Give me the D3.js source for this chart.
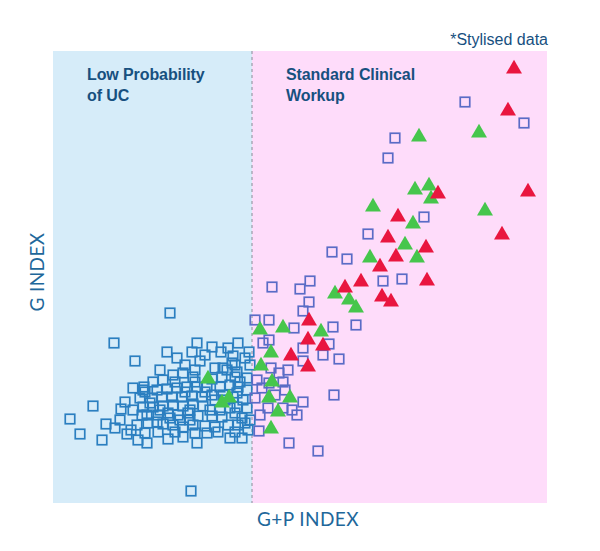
<!DOCTYPE html>
<html>
<head>
<meta charset="utf-8">
<script src="https://cdn.jsdelivr.net/npm/d3@7"></script>
<style>
  html, body { margin: 0; padding: 0; background: #ffffff; }
  svg { display: block; }
</style>
</head>
<body>
<svg id="chart" width="600" height="551"></svg>
<script>
// ---- Data (stylised, arbitrary index units) ----
const xDomain = [0, 98.8];
const yDomain = [0, 90.4];
const threshold = 39.8;

const regionLabels = [
  ["Low Probability", "of UC"],
  ["Standard Clinical", "Workup"]
];
const xAxisTitle = "G+P INDEX";
const yAxisTitle = "G INDEX";
const noteText = "*Stylised data";

// squares (hollow)
const squareX = [
  23.4,12.2,16.4,8.0,3.4,5.4,9.8,14.8,15.6,10.6,12.4,13.6,14.4,16.0,18.0,18.8,23.0,28.8,37.8,27.6,
  28.8,31.8,33.6,27.8,22.8,24.8,36.0,37.0,29.4,32.4,34.0,35.8,39.2,
  26.0,28.0,24.0,22.0,20.0,18.2,31.8,33.8,36.4,33.4,35.4,36.4,34.8,36.8,38.8,37.0,38.8,
  18.4,20.8,22.8,24.8,26.8,28.8,30.8,19.8,21.8,23.8,25.8,27.8,29.8,31.8,36.8,34.0,36.0,38.0,17.4,
  18.0,20.0,22.0,24.0,26.0,28.0,30.0,31.4,35.4,36.8,38.8,19.4,16.0,
  18.8,21.0,23.0,25.0,27.0,29.0,31.8,33.8,36.4,37.8,17.8,
  19.0,20.8,22.0,24.0,26.0,28.0,30.4,32.4,35.0,37.0,38.4,
  18.4,21.0,26.0,30.8,33.0,35.4,36.4,
  24.4,26.4,28.4,30.4,32.4,34.4,21.4,23.4,25.4,27.4,33.4,27.4,37.4,39.4,39.0,13.4,16.8,17.0,24.4,28.4,
  39.4,38.4,35.0,30.4,26.4,28.4,21.4,
  82.4,94.2,68.4,67.0,74.2,63.0,55.8,58.8,66.0,69.8,51.4,49.4,43.8,51.2,50.0,56.0,60.6,40.4,43.2,48.2,
  43.2,42.0,55.2,50.0,54.0,57.2,50.0,47.0,45.2,43.6,56.2,50.0,48.8,47.8,41.2,47.2,53.0,40.8,41.8,46.0,
  46.4,44.4,40.4,43.0,41.4,46.0,43.2
];
const squareY = [
  38.0,32.0,28.4,19.4,16.8,13.8,12.6,13.8,14.6,15.8,15.0,18.8,20.2,23.0,22.6,12.0,12.8,12.0,13.0,2.4,
  32.0,31.2,30.2,30.2,30.2,29.0,29.4,32.0,28.4,27.0,27.0,28.0,30.2,
  26.0,25.2,25.6,24.6,24.2,23.2,24.8,25.2,25.2,23.2,23.6,27.6,26.6,26.2,25.0,23.2,22.6,
  22.2,22.6,22.8,23.0,23.2,23.2,23.2,21.0,21.2,21.2,21.2,21.4,21.2,21.6,22.0,21.6,21.2,20.6,21.0,
  19.2,19.2,19.4,19.6,19.4,19.8,19.4,18.6,19.0,19.2,19.0,20.0,18.6,
  17.6,17.6,18.0,17.6,18.0,17.4,17.4,17.2,18.0,17.0,17.6,
  16.0,16.2,15.8,15.6,15.2,15.6,15.4,15.2,15.6,15.6,16.0,
  14.0,14.2,13.2,14.0,14.2,13.0,14.2,
  24.2,22.2,24.2,22.2,20.6,20.6,18.6,17.0,16.6,16.6,18.6,18.6,24.2,16.6,14.6,16.6,15.6,12.6,14.2,14.0,
  27.6,29.0,31.0,29.6,27.6,26.6,26.6,
  80.2,76.0,73.0,69.0,57.2,53.8,50.2,48.8,44.4,44.8,44.4,42.8,43.2,40.2,38.4,35.2,35.6,36.6,36.6,35.0,
  32.6,32.0,31.8,31.0,29.6,28.8,28.4,26.6,26.0,27.0,21.6,20.2,17.6,18.6,14.4,12.0,10.4,24.6,23.0,24.2,
  22.6,21.6,21.0,19.0,17.6,19.0,24.0
];

// green triangles
const greenX = [73.2,85.2,72.4,75.2,75.6,86.4,64.0,72.0,70.4,63.4,72.8,56.4,59.2,60.6,41.4,46.0,53.6,43.6,41.6,43.8,43.2,47.4,45.0,43.6,31.0,33.8,35.2];
const greenY = [73.2,74.0,62.6,63.4,60.8,58.4,59.2,55.8,51.6,49.0,49.0,41.8,40.6,39.0,34.6,35.0,34.2,30.0,27.4,24.2,21.0,21.0,18.2,14.8,24.8,20.0,21.0];

// red triangles
const redX = [92.2,91.0,95.0,77.0,69.0,89.8,67.0,74.6,68.6,65.4,74.8,61.6,58.4,65.8,67.6,51.2,51.0,54.0,47.6,51.0];
const redY = [86.8,78.4,62.2,61.8,57.2,53.6,53.0,51.0,49.2,47.2,44.4,44.2,43.0,41.2,40.2,36.4,32.6,31.4,29.4,27.2];

// ---- Drawing ----
const svg = d3.select("#chart");
const plot = { left: 53, right: 547, top: 51, bottom: 503 };

const x = d3.scaleLinear().domain(xDomain).range([plot.left, plot.right]);
const y = d3.scaleLinear().domain(yDomain).range([plot.bottom, plot.top]);

const textColor = "#17507f";

// backgrounds
svg.append("rect")
  .attr("x", x(xDomain[0])).attr("y", y(yDomain[1]))
  .attr("width", x(threshold) - x(xDomain[0]))
  .attr("height", y(yDomain[0]) - y(yDomain[1]))
  .attr("fill", "#d6ecf9");
svg.append("rect")
  .attr("x", x(threshold)).attr("y", y(yDomain[1]))
  .attr("width", x(xDomain[1]) - x(threshold))
  .attr("height", y(yDomain[0]) - y(yDomain[1]))
  .attr("fill", "#fedcfa");

// dashed divider
svg.append("line")
  .attr("x1", x(threshold)).attr("x2", x(threshold))
  .attr("y1", y(yDomain[1])).attr("y2", y(yDomain[0]))
  .attr("stroke", "#9a9aa8").attr("stroke-width", 1.2)
  .attr("stroke-dasharray", "3,3");

// region labels
const labelPos = [xDomain[0] + 6.8, threshold + 6.8];
regionLabels.forEach((lines, i) => {
  const t = svg.append("text")
    .attr("x", x(labelPos[i]))
    .attr("y", 80)
    .attr("fill", textColor)
    .attr("font-family", "Liberation Sans, Arial, sans-serif")
    .attr("font-weight", "bold")
    .attr("font-size", 16)
    .attr("letter-spacing", -0.1);
  lines.forEach((l, j) => {
    t.append("tspan").attr("x", x(labelPos[i])).attr("dy", j === 0 ? 0 : 21).text(l);
  });
});

// note
svg.append("text")
  .attr("x", 548).attr("y", 45)
  .attr("text-anchor", "end")
  .attr("fill", textColor)
  .attr("font-family", "Liberation Sans, Arial, sans-serif")
  .attr("font-size", 16)
  .text(noteText);

// squares
const squares = squareX.map((v, i) => ({ x: v, y: squareY[i] }));
const sqSize = 9.5;
svg.append("g").selectAll("rect")
  .data(squares)
  .join("rect")
  .attr("x", d => x(d.x) - sqSize / 2)
  .attr("y", d => y(d.y) - sqSize / 2)
  .attr("width", sqSize).attr("height", sqSize)
  .attr("fill", "none")
  .attr("stroke", d => d.x < threshold ? "#2b7fc0" : "#5a6cc6")
  .attr("stroke-width", 1.7);

// triangles
const tri = d3.symbol().type(d3.symbolTriangle).size(110);
function drawTriangles(xs, ys, color) {
  svg.append("g").selectAll("path")
    .data(xs.map((v, i) => ({ x: v, y: ys[i] })))
    .join("path")
    .attr("d", tri)
    .attr("transform", d => `translate(${x(d.x)},${y(d.y)})`)
    .attr("fill", color);
}
drawTriangles(greenX, greenY, "#46c64c");
drawTriangles(redX, redY, "#e9163f");

// axis titles
svg.append("text")
  .attr("x", (plot.left + plot.right) / 2 + 8)
  .attr("y", 526)
  .attr("text-anchor", "middle")
  .attr("fill", "#21679a")
  .attr("font-family", "Lato, Open Sans, sans-serif")
  .attr("font-size", 19)
  .attr("letter-spacing", 0.4)
  .text(xAxisTitle);

svg.append("text")
  .attr("transform", `translate(44, 272) rotate(-90)`)
  .attr("text-anchor", "middle")
  .attr("fill", "#21679a")
  .attr("font-family", "Lato, Open Sans, sans-serif")
  .attr("font-size", 19)
  .attr("letter-spacing", 0.4)
  .text(yAxisTitle);
</script>
</body>
</html>
